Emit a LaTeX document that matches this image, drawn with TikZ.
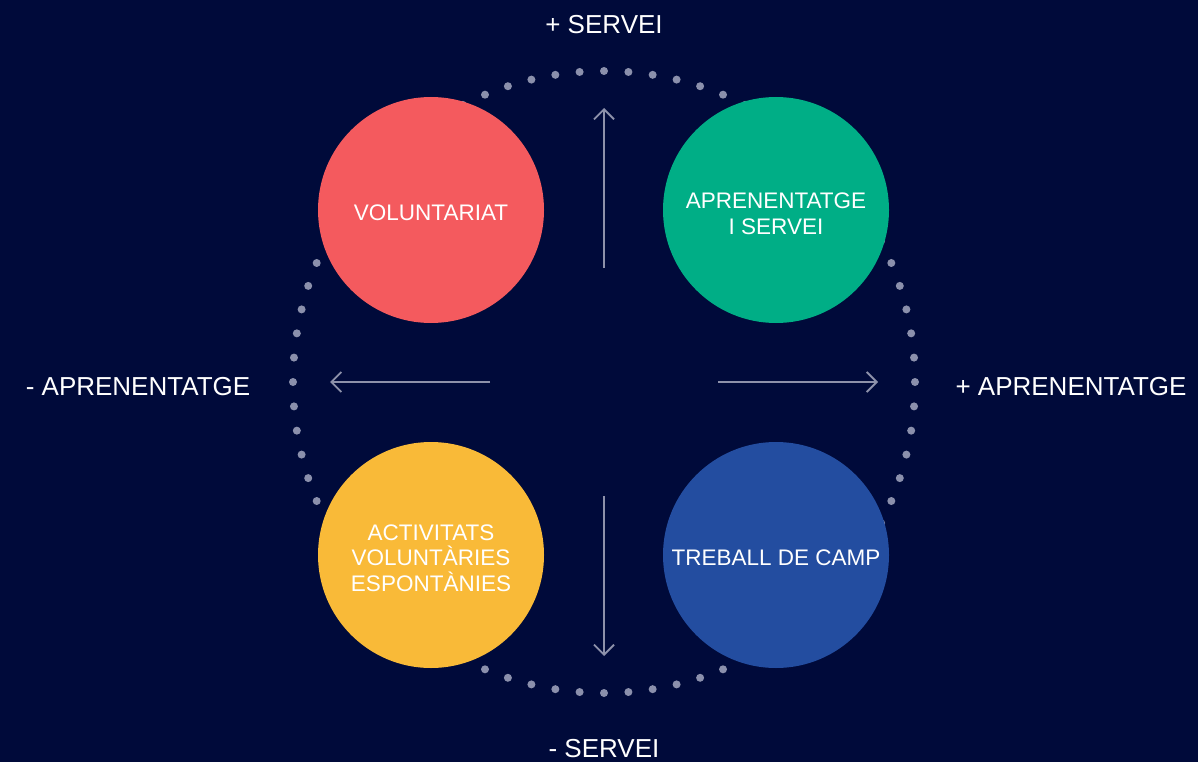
\documentclass[tikz,border=0pt]{standalone}
\usepackage{fontspec}
\setmainfont{Liberation Sans}
\usetikzlibrary{arrows.meta,calc}
\definecolor{bgnavy}{HTML}{000A3A}
\definecolor{cred}{HTML}{F45A5E}
\definecolor{cgreen}{HTML}{00AE86}
\definecolor{cyellow}{HTML}{F9BA38}
\definecolor{cblue}{HTML}{234DA0}
\definecolor{dotgrey}{HTML}{8B90AC}
\definecolor{arrgrey}{HTML}{8D91AA}
\tikzset{
  bubble/.style={circle, minimum size=226pt, inner sep=0pt},
  bubbletext/.style={inner sep=0pt, text=white, align=center,
    font=\fontsize{22.5}{25.5}\selectfont},
  axislabel/.style={text=white, inner sep=0pt, font=\fontsize{26}{30}\selectfont},
  axisarrow/.style={draw=arrgrey, line width=1.8pt, -{Straight Barb[length=10pt,width=20pt,line width=1.8pt]}},
  ringdot/.style={fill=dotgrey}
}
\begin{document}
\begin{tikzpicture}[x=1pt,y=-1pt]
\fill[bgnavy] (0,0) rectangle (1198,762);
\useasboundingbox (0,0) rectangle (1198,762);
% dotted ring
\coordinate (ringc) at (604,382);
\foreach \i in {0,...,79}{
  \fill[ringdot] ($(ringc)+({90+\i*4.5}:311)$) circle (4pt);
}
% bubbles
\node[bubble, fill=cred] (vol) at (431,210) {};
\node[bubble, fill=cgreen] (aps) at (776,210) {};
\node[bubble, fill=cyellow] (act) at (431,555) {};
\node[bubble, fill=cblue] (tre) at (776,555) {};
\node[bubbletext] (volt) at ($(vol.center)+(0,3)$) {VOLUNTARIAT};
\node[bubbletext] (apst) at ($(aps.center)+(0,4)$) {APRENENTATGE\\I SERVEI};
\node[bubbletext] (actt) at ($(act.center)+(0,3)$) {ACTIVITATS\\VOLUNTÀRIES\\ESPONTÀNIES};
\node[bubbletext] (tret) at ($(tre.center)+(0,3)$) {TREBALL DE CAMP};
% arrows
\coordinate (upS) at (604,268);
\coordinate (upE) at (604,108);
\coordinate (dnS) at (604,496);
\coordinate (dnE) at (604,656);
\coordinate (lfS) at (490,382);
\coordinate (lfE) at (330,382);
\coordinate (rtS) at (718,382);
\coordinate (rtE) at (878,382);
\draw[axisarrow] (upS) -- (upE);
\draw[axisarrow] (dnS) -- (dnE);
\draw[axisarrow] (lfS) -- (lfE);
\draw[axisarrow] (rtS) -- (rtE);
% axis labels
\node[axislabel] (ms) at (604,25) {+ SERVEI};
\node[axislabel] (ls) at (604,749) {- SERVEI};
\node[axislabel] (la) at (138,387) {- APRENENTATGE};
\node[axislabel] (ma) at (1071,387) {+ APRENENTATGE};
\end{tikzpicture}
\end{document}
